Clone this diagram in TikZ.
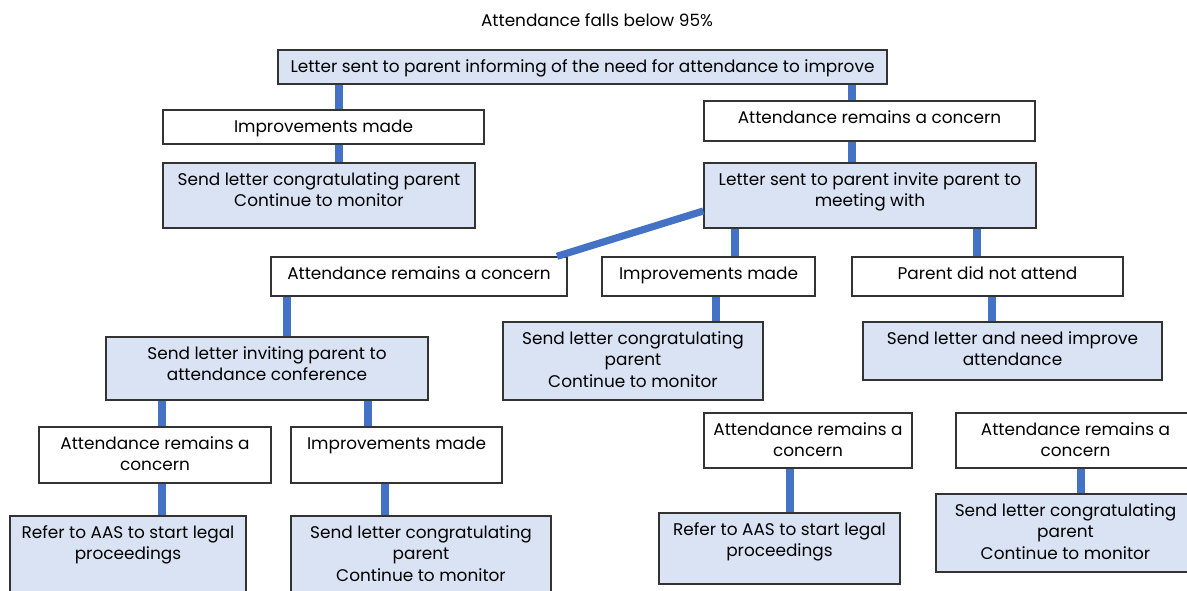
\documentclass[tikz,border=0pt]{standalone}
\usepackage{fontspec}
\setmainfont{Poppins}
\usepackage{xcolor}
\usetikzlibrary{fit}
\definecolor{linkblue}{RGB}{68,114,196}
\definecolor{boxfill}{RGB}{218,227,243}
\tikzset{
  box/.style={draw=black!80,line width=0.7pt,fill=white,inner sep=0pt},
  shaded/.style={box,fill=boxfill},
  txt/.style={align=center,inner sep=0pt,font=\fontsize{8.45}{10.75}\selectfont},
  intext/.style={txt,anchor=north,yshift=-4.9pt},
  link/.style={linkblue,line width=3.6pt}
}
\begin{document}
\begin{tikzpicture}[x=0.5pt,y=-0.5pt]
\useasboundingbox (0,0) rectangle (1187,590);
\node[txt] (title) at (597,20) {Attendance falls below 95\%};
% first letter and its two outcomes
\node[shaded,fit={(278,50)(887,84)},label={[intext]north:Letter sent to parent informing of the need for attendance to improve}] (letter) {};
\node[box,fit={(163,110)(484,144)},label={[intext]north:Improvements made}] (impA) {};
\node[shaded,fit={(163,163)(475,228)},label={[intext]north:Send letter congratulating parent\\Continue to monitor}] (congA) {};
\node[box,fit={(704,101)(1035,141)},label={[intext]north:Attendance remains a concern}] (concA) {};
\node[shaded,fit={(704,163)(1036,228)},label={[intext]north:Letter sent to parent invite parent to\\meeting with}] (meet) {};
% outcomes of the meeting
\node[box,fit={(271,257)(567,296)},label={[intext]north:Attendance remains a concern}] (concB) {};
\node[box,fit={(602,257)(815,296)},label={[intext]north:Improvements made}] (impB) {};
\node[box,fit={(852,257)(1123,296)},label={[intext]north:Parent did not attend}] (absent) {};
\node[shaded,fit={(106,337)(428,400)},label={[intext]north:Send letter inviting parent to\\attendance conference}] (conf) {};
\node[shaded,fit={(503,322)(763,400)},label={[intext]north:Send letter congratulating\\parent\\Continue to monitor}] (congB) {};
\node[shaded,fit={(863,322)(1162,380)},label={[intext]north:Send letter and need improve\\attendance}] (improve) {};
% conference outcomes
\node[box,fit={(39,427)(271,483)},label={[intext]north:Attendance remains a\\concern}] (concC) {};
\node[box,fit={(291,427)(502,483)},label={[intext]north:Improvements made}] (impC) {};
\node[shaded,fit={(10,516)(246,598)},label={[intext]north:Refer to AAS to start legal\\proceedings}] (legalA) {};
\node[shaded,fit={(291,516)(551,598)},label={[intext]north:Send letter congratulating\\parent\\Continue to monitor}] (congC) {};
% right hand branches
\node[box,fit={(704,413)(912,468)},label={[intext]north:Attendance remains a\\concern}] (concD) {};
\node[shaded,fit={(659,513)(900,584)},label={[intext]north:Refer to AAS to start legal\\proceedings}] (legalB) {};
\node[box,fit={(956,413)(1195,468)},label={[intext]north:Attendance remains a\\concern}] (concE) {};
\node[shaded,fit={(936,494)(1195,572)},label={[intext]north:Send letter congratulating\\parent\\Continue to monitor}] (congD) {};
% connectors
\draw[link] (letter.south -| 339,0) -- (impA.north -| 339,0);
\draw[link] (letter.south -| 852,0) -- (concA.north -| 852,0);
\draw[link] (impA.south -| 339,0) -- (congA.north -| 339,0);
\draw[link] (concA.south -| 852,0) -- (meet.north -| 852,0);
\draw[link] (meet.west |- 0,211) -- (concB.north east -| 557,0);
\draw[link] (meet.south -| 735,0) -- (impB.north -| 735,0);
\draw[link] (meet.south -| 977,0) -- (absent.north -| 977,0);
\draw[link] (concB.south -| 287,0) -- (conf.north -| 287,0);
\draw[link] (impB.south -| 716,0) -- (congB.north -| 716,0);
\draw[link] (absent.south -| 992,0) -- (improve.north -| 992,0);
\draw[link] (conf.south -| 162,0) -- (concC.north -| 162,0);
\draw[link] (conf.south -| 368,0) -- (impC.north -| 368,0);
\draw[link] (concC.south -| 162,0) -- (legalA.north -| 162,0);
\draw[link] (impC.south -| 385,0) -- (congC.north -| 385,0);
\draw[link] (concD.south -| 790,0) -- (legalB.north -| 790,0);
\draw[link] (concE.south -| 1081,0) -- (congD.north -| 1081,0);
\end{tikzpicture}
\end{document}
